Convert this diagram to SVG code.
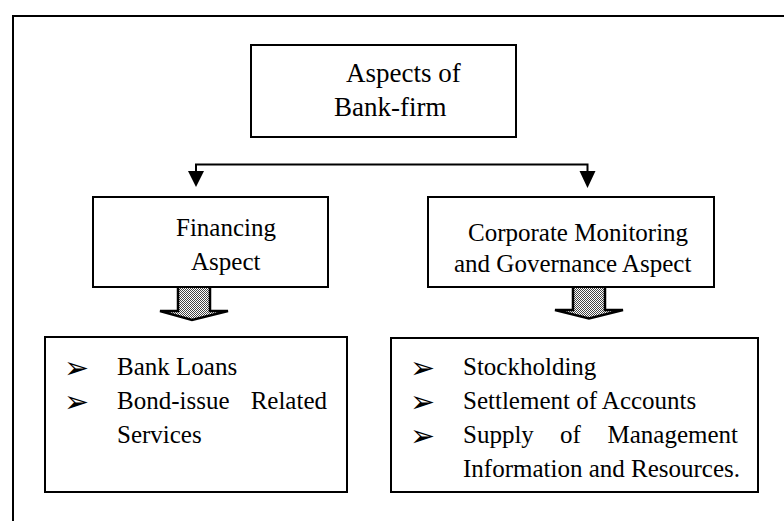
<svg xmlns="http://www.w3.org/2000/svg" width="784" height="521" viewBox="0 0 784 521">
<style>
.box{fill:#fff;stroke:#000;stroke-width:2}
.t{font-family:"Liberation Serif","Times New Roman",serif;fill:#000}
.t25{font-size:25px}
.t27{font-size:27px}
.b{font-family:"DejaVu Sans",sans-serif;font-size:30px;fill:#000}
.ln{fill:none;stroke:#000;stroke-width:2}
.blk{fill:url(#stip);stroke:#000;stroke-width:2.5;stroke-linejoin:miter}
</style>
<defs>
<pattern id="stip" width="2" height="2" patternUnits="userSpaceOnUse">
<rect width="2" height="2" fill="#fff"/>
<rect width="1" height="1" fill="#444"/>
<rect x="1" y="1" width="1" height="1" fill="#444"/>
</pattern>
</defs>
<rect width="784" height="521" fill="#fff"/>
<path d="M13,521 V16 H784" fill="none" stroke="#000" stroke-width="2"/>

<g id="top">
<rect class="box" x="251" y="45" width="265" height="92"/>
<text class="t t27" x="346" y="82">Aspects of</text>
<text class="t t27" x="334" y="116">Bank-firm</text>
</g>

<g id="connectors">
<path class="ln" d="M196,172 V164.5 H587.5 V172"/>
<path d="M188,171 L204,171 L196,187 Z" fill="#000"/>
<path d="M579.5,171 L595.5,171 L587.5,188 Z" fill="#000"/>
<path class="blk" d="M178,287 V311 H160 L192,320 L228,311 H210 V287"/>
<path class="blk" d="M573,287 V310 H555 L589,318.5 L623,310 H605 V287"/>
</g>

<g id="financing">
<rect class="box" x="93" y="197" width="235" height="90"/>
<text class="t t25" x="176" y="236">Financing</text>
<text class="t t25" x="191" y="270">Aspect</text>
</g>

<g id="corporate">
<rect class="box" x="428" y="197" width="286" height="90"/>
<text class="t t25" x="468" y="241">Corporate Monitoring</text>
<text class="t t25" x="454" y="272">and Governance Aspect</text>
</g>

<g id="financing-list">
<rect class="box" x="45" y="337" width="302" height="155"/>
<text class="b" x="64" y="378">➢</text>
<text class="b" x="64" y="412">➢</text>
<text class="t t25" x="117" y="375">Bank Loans</text>
<text class="t t25" x="117" y="409">Bond-issue</text>
<text class="t t25" x="327" y="409" text-anchor="end">Related</text>
<text class="t t25" x="117" y="443">Services</text>
</g>

<g id="corporate-list">
<rect class="box" x="391" y="338" width="367" height="154"/>
<text class="b" x="410" y="378">➢</text>
<text class="b" x="410" y="412">➢</text>
<text class="b" x="410" y="446">➢</text>
<text class="t t25" x="463" y="375">Stockholding</text>
<text class="t t25" x="463" y="409">Settlement of Accounts</text>
<text class="t t25" x="463" y="443">Supply</text>
<text class="t t25" x="560" y="443">of</text>
<text class="t t25" x="738" y="443" text-anchor="end">Management</text>
<text class="t t25" x="463" y="477">Information and Resources.</text>
</g>
</svg>
